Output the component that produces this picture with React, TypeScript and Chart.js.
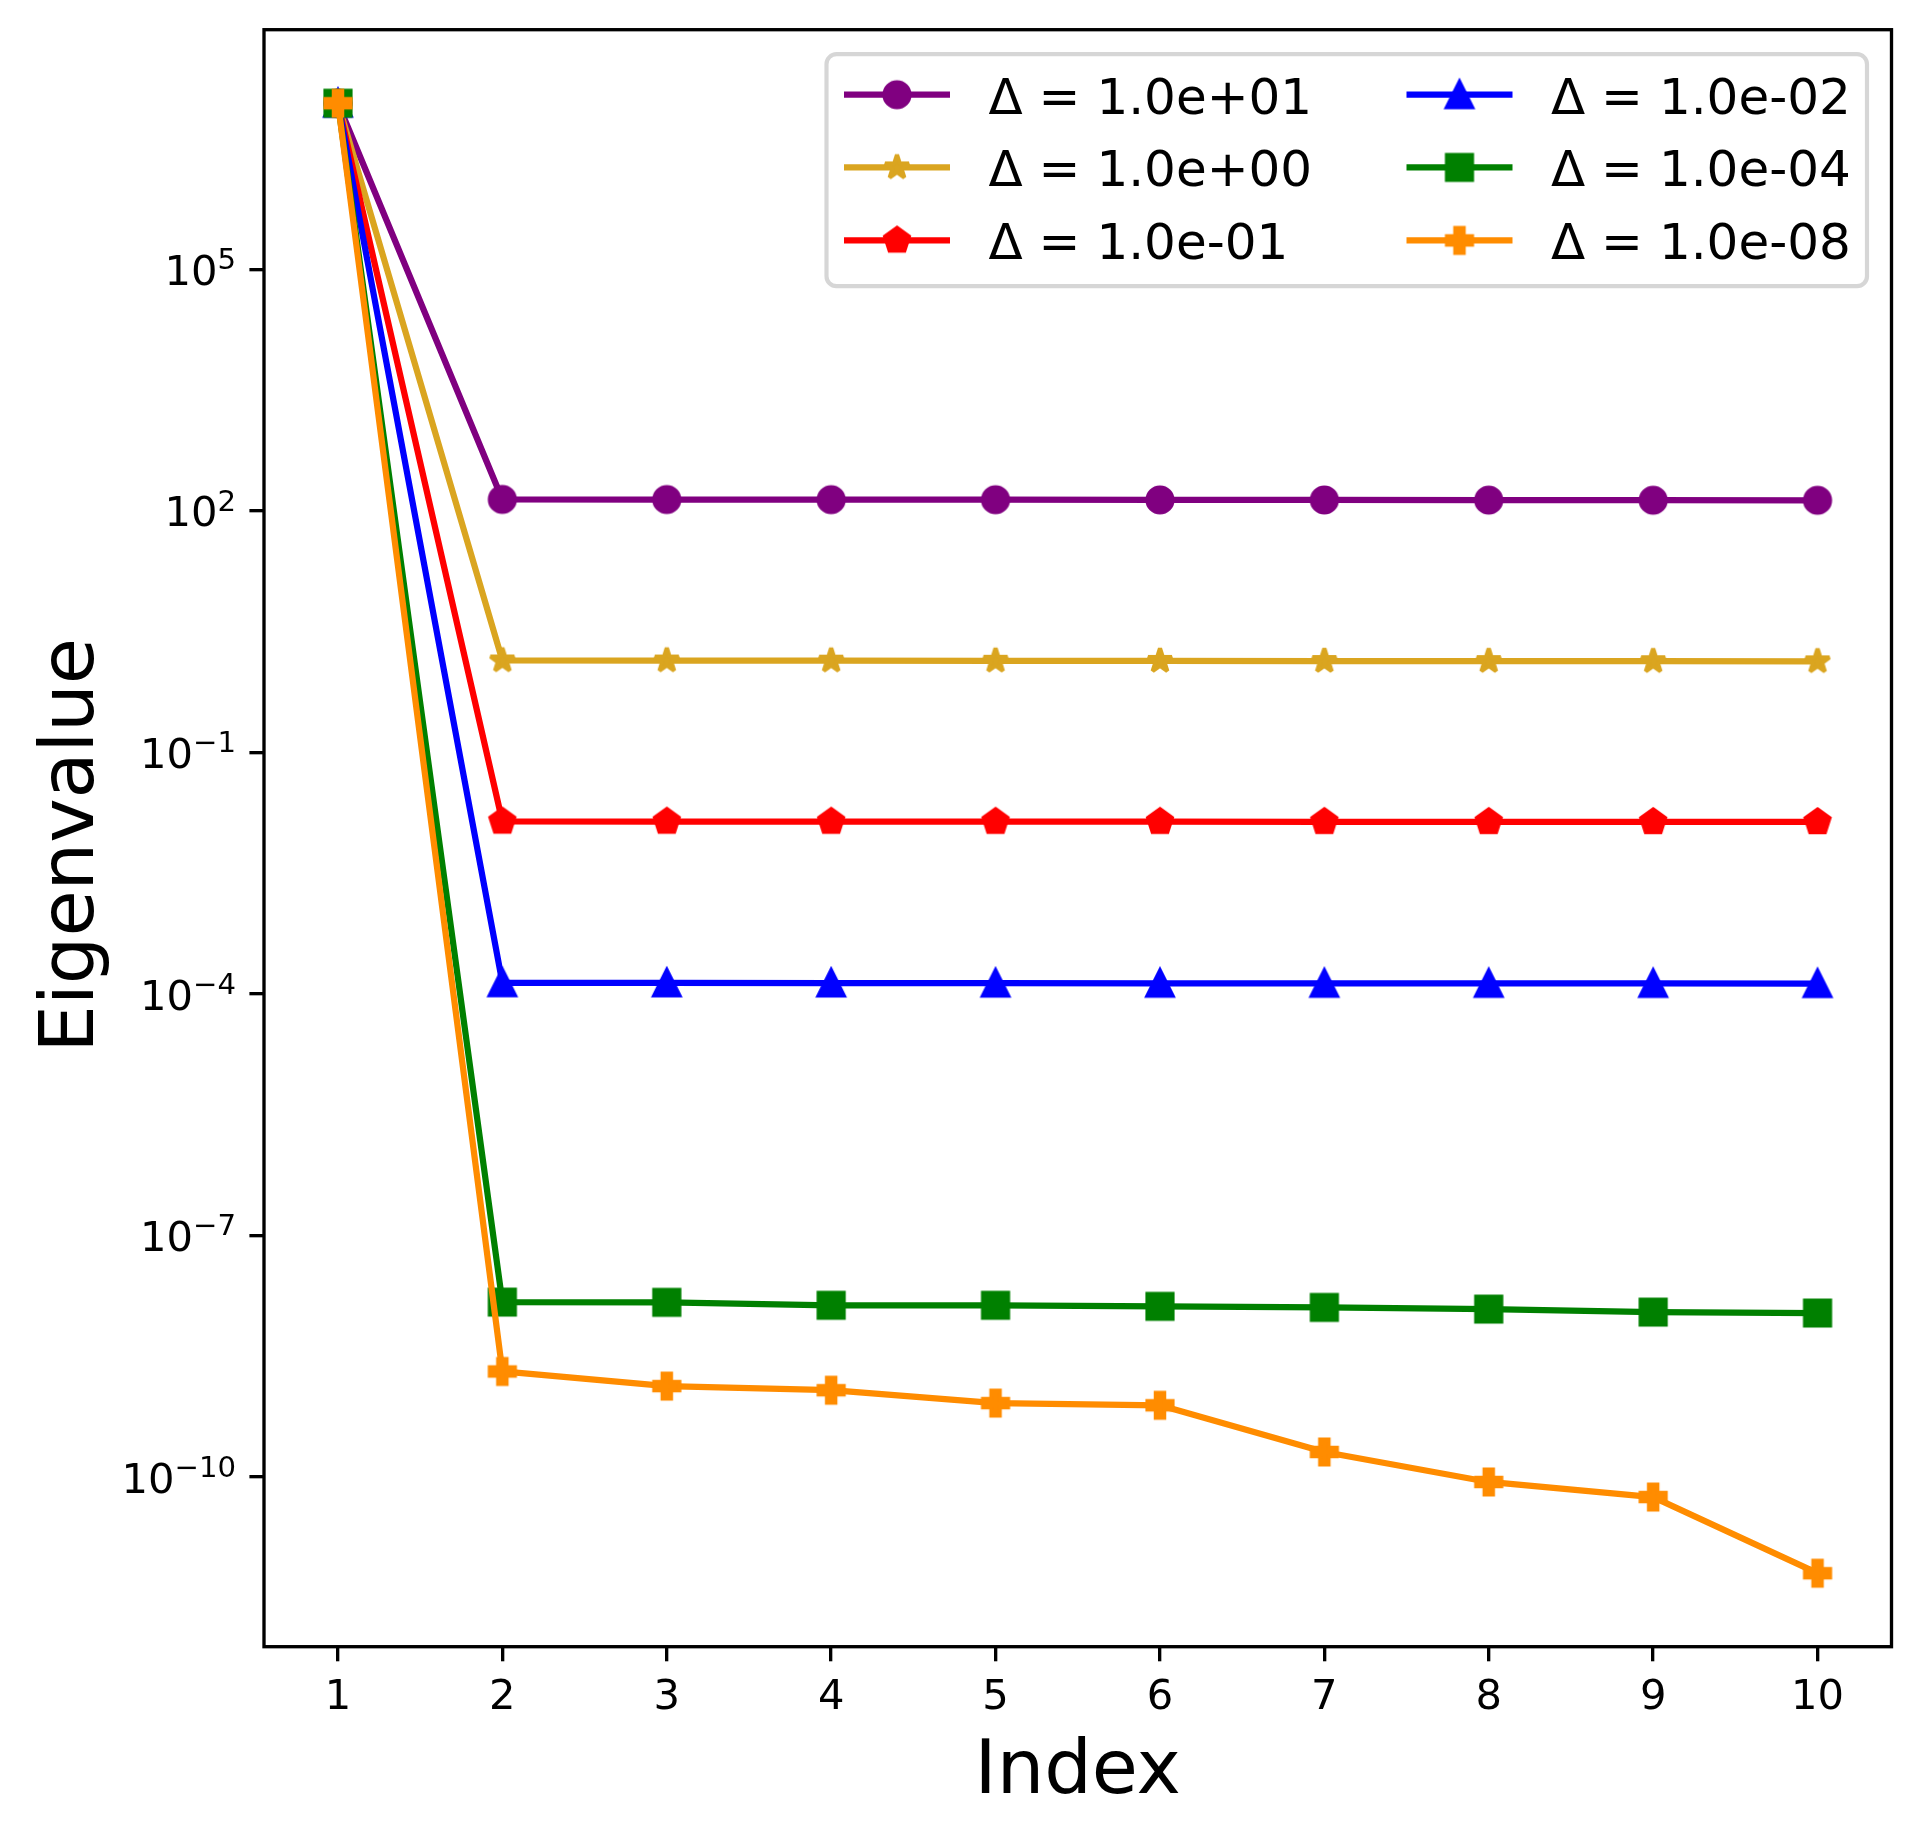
import React, { useEffect, useRef } from 'react';
import { Chart, registerables } from 'chart.js';

Chart.register(...registerables);

// ---------- data ----------
const indices = [1, 2, 3, 4, 5, 6, 7, 8, 9, 10];
const seriesLabels = [
  'Δ = 1.0e+01',
  'Δ = 1.0e+00',
  'Δ = 1.0e-01',
  'Δ = 1.0e-02',
  'Δ = 1.0e-04',
  'Δ = 1.0e-08',
];
const delta1e1 = [1.16e7, 139, 138.6, 138.2, 137.8, 137.2, 136.8, 136.4, 136.0, 135.6];
const delta1e0 = [1.16e7, 1.39, 1.386, 1.382, 1.378, 1.372, 1.368, 1.364, 1.36, 1.356];
const delta1em1 = [1.16e7, 0.0139, 0.01388, 0.01385, 0.01383, 0.0138, 0.01378, 0.01376, 0.01373, 0.0137];
const delta1em2 = [1.16e7, 1.38e-4, 1.375e-4, 1.37e-4, 1.365e-4, 1.36e-4, 1.357e-4, 1.354e-4, 1.351e-4, 1.348e-4];
const delta1em4 = [1.16e7, 1.49e-8, 1.48e-8, 1.36e-8, 1.36e-8, 1.32e-8, 1.28e-8, 1.22e-8, 1.12e-8, 1.09e-8];
const delta1em8 = [1.16e7, 2.05e-9, 1.35e-9, 1.2e-9, 8.3e-10, 7.8e-10, 2.05e-10, 8.7e-11, 5.65e-11, 6.4e-12];
const seriesValues = [delta1e1, delta1e0, delta1em1, delta1em2, delta1em4, delta1em8];
const seriesColors = ['#800080', '#DAA520', '#FF0000', '#0000FF', '#008000', '#FF8C00'];
const seriesMarkers = ['circle', 'star', 'pentagon', 'triangle', 'square', 'plus'];
const yTickExponents = [-10, -7, -4, -1, 2, 5];
const xTitle = 'Index';
const yTitle = 'Eigenvalue';

// ---------- style constants ----------
const W = 1921;
const H = 1837;
const FONT = '"DejaVu Sans", "Liberation Sans", sans-serif';
const LW = 6.25; // line width 1.5pt
const MS = 25; // marker size 6pt
const MEW = 4.17; // marker edge width 1pt
const SPINE = 3.33;
const TICK_LEN = 14.6;

function makeMarker(kind: string, color: string): HTMLCanvasElement {
  const S = 48;
  const c = document.createElement('canvas');
  c.width = S;
  c.height = S;
  const g = c.getContext('2d')!;
  g.translate(S / 2, S / 2);
  const h = MS / 2;
  g.fillStyle = color;
  g.strokeStyle = color;
  g.lineWidth = MEW;
  g.lineJoin = 'miter';
  g.beginPath();
  if (kind === 'circle') {
    g.arc(0, 0, h, 0, Math.PI * 2);
    g.lineJoin = 'round';
  } else if (kind === 'star') {
    for (let i = 0; i < 10; i++) {
      const r = i % 2 === 0 ? h : h * 0.381966;
      const a = -Math.PI / 2 + (i * Math.PI) / 5;
      const px = r * Math.cos(a);
      const py = r * Math.sin(a);
      if (i === 0) g.moveTo(px, py);
      else g.lineTo(px, py);
    }
    g.lineJoin = 'bevel';
  } else if (kind === 'pentagon') {
    for (let i = 0; i < 5; i++) {
      const a = -Math.PI / 2 + (i * 2 * Math.PI) / 5;
      const px = h * Math.cos(a);
      const py = h * Math.sin(a);
      if (i === 0) g.moveTo(px, py);
      else g.lineTo(px, py);
    }
  } else if (kind === 'triangle') {
    g.moveTo(0, -h);
    g.lineTo(-h, h);
    g.lineTo(h, h);
  } else if (kind === 'square') {
    g.rect(-h, -h, 2 * h, 2 * h);
  } else if (kind === 'plus') {
    const a = h / 3;
    const pts = [
      [-a, -h], [a, -h], [a, -a], [h, -a], [h, a], [a, a],
      [a, h], [-a, h], [-a, a], [-h, a], [-h, -a], [-a, -a],
    ];
    pts.forEach(([px, py], i) => (i === 0 ? g.moveTo(px, py) : g.lineTo(px, py)));
  }
  g.closePath();
  g.fill();
  g.stroke();
  return c;
}

export default function App() {
  const ref = useRef<HTMLCanvasElement | null>(null);

  useEffect(() => {
    if (!ref.current) return;
    const markers = seriesColors.map((c, i) => makeMarker(seriesMarkers[i], c));

    const all = seriesValues.flat();
    const lo = Math.log10(Math.min(...all));
    const hi = Math.log10(Math.max(...all));
    const ym = 0.05 * (hi - lo);
    const xm = 0.05 * (indices[indices.length - 1] - indices[0]);

    const decoPlugin = {
      id: 'mplDeco',
      afterDraw(chart: any) {
        const ctx = chart.ctx as CanvasRenderingContext2D;
        const ca = chart.chartArea;
        const xs = chart.scales.x;
        const ys = chart.scales.y;
        ctx.save();
        // spines
        ctx.strokeStyle = '#000';
        ctx.lineWidth = SPINE;
        ctx.strokeRect(ca.left, ca.top, ca.right - ca.left, ca.bottom - ca.top);

        // x tick labels
        ctx.fillStyle = '#000';
        ctx.font = `41.67px ${FONT}`;
        ctx.textAlign = 'center';
        ctx.textBaseline = 'alphabetic';
        indices.forEach((v) => {
          ctx.fillText(String(v), xs.getPixelForValue(v), ca.bottom + 62.3);
        });

        // y tick labels 10^n
        yTickExponents.forEach((e) => {
          const y = ys.getPixelForValue(Math.pow(10, e));
          const base = '10';
          const sup = e < 0 ? '\u2212' + Math.abs(e) : String(e);
          ctx.font = `41.67px ${FONT}`;
          const bw = ctx.measureText(base).width;
          ctx.font = `29.17px ${FONT}`;
          const sw = ctx.measureText(sup).width;
          const xRight = ca.left - 28;
          const x0 = xRight - sw - bw;
          ctx.textAlign = 'left';
          ctx.font = `41.67px ${FONT}`;
          ctx.fillText(base, x0, y + 15.5);
          ctx.font = `29.17px ${FONT}`;
          ctx.fillText(sup, x0 + bw, y + 15.5 - 15.6);
        });

        // axis titles
        ctx.font = `75px ${FONT}`;
        ctx.textAlign = 'center';
        ctx.fillText(xTitle, (ca.left + ca.right) / 2, ca.bottom + 146);
        ctx.save();
        ctx.translate(92.7, (ca.top + ca.bottom) / 2 + 7);
        ctx.rotate(-Math.PI / 2);
        ctx.fillText(yTitle, 0, 0);
        ctx.restore();

        // legend
        const right = ca.right - 24.5;
        const top = ca.top + 24.5;
        const left = right - 1040.5;
        const bottom = top + 232;
        const r = 10;
        ctx.beginPath();
        ctx.moveTo(left + r, top);
        ctx.lineTo(right - r, top);
        ctx.arcTo(right, top, right, top + r, r);
        ctx.lineTo(right, bottom - r);
        ctx.arcTo(right, bottom, right - r, bottom, r);
        ctx.lineTo(left + r, bottom);
        ctx.arcTo(left, bottom, left, bottom - r, r);
        ctx.lineTo(left, top + r);
        ctx.arcTo(left, top, left + r, top, r);
        ctx.closePath();
        ctx.fillStyle = 'rgba(255,255,255,0.8)';
        ctx.fill();
        ctx.lineWidth = 4.17;
        ctx.strokeStyle = 'rgba(204,204,204,0.8)';
        ctx.stroke();

        const rowOffsets = [40.5, 113.2, 186.2];
        const colOffsets = [17.5, 580];
        ctx.font = `50px ${FONT}`;
        ctx.textAlign = 'left';
        ctx.textBaseline = 'alphabetic';
        seriesLabels.forEach((label, i) => {
          const col = Math.floor(i / 3);
          const row = i % 3;
          const lx = left + colOffsets[col];
          const ly = top + rowOffsets[row];
          ctx.strokeStyle = seriesColors[i];
          ctx.lineWidth = LW;
          ctx.lineCap = 'butt';
          ctx.beginPath();
          ctx.moveTo(lx, ly);
          ctx.lineTo(lx + 106, ly);
          ctx.stroke();
          const m = markers[i];
          ctx.drawImage(m, lx + 53 - m.width / 2, ly - m.height / 2);
          ctx.fillStyle = '#000';
          ctx.fillText(label, lx + 144.5, ly + 19);
        });
        ctx.restore();
      },
    };

    const chart = new Chart(ref.current, {
      type: 'line',
      data: {
        datasets: seriesValues.map((vals, i) => ({
          label: seriesLabels[i],
          data: vals.map((v, j) => ({ x: indices[j], y: v })),
          borderColor: seriesColors[i],
          backgroundColor: seriesColors[i],
          borderWidth: LW,
          borderJoinStyle: 'round' as const,
          pointStyle: markers[i] as any,
          pointRadius: 12,
          pointHoverRadius: 12,
          tension: 0,
          fill: false,
          order: seriesValues.length - i,
        })),
      },
      options: {
        animation: false,
        responsive: false,
        devicePixelRatio: 1,
        events: [],
        layout: { padding: { top: 29.7, right: W - 1891.5, left: 0, bottom: 0 } },
        plugins: {
          legend: { display: false },
          tooltip: { enabled: false },
          title: { display: false },
        },
        scales: {
          x: {
            type: 'linear',
            min: indices[0] - xm,
            max: indices[indices.length - 1] + xm,
            afterBuildTicks: (scale: any) => {
              scale.ticks = indices.map((v) => ({ value: v }));
            },
            afterFit: (scale: any) => {
              scale.height = H - 1646.7;
            },
            ticks: { display: false },
            grid: {
              display: true,
              drawOnChartArea: false,
              drawTicks: true,
              tickLength: TICK_LEN,
              lineWidth: SPINE,
              tickWidth: SPINE,
              color: '#000',
              tickColor: '#000',
            },
            border: { display: false },
            title: { display: false },
          },
          y: {
            type: 'logarithmic',
            min: Math.pow(10, lo - ym),
            max: Math.pow(10, hi + ym),
            afterBuildTicks: (scale: any) => {
              scale.ticks = yTickExponents.map((e) => ({ value: Math.pow(10, e) }));
            },
            afterFit: (scale: any) => {
              scale.width = 264;
            },
            ticks: { display: false },
            grid: {
              display: true,
              drawOnChartArea: false,
              drawTicks: true,
              tickLength: TICK_LEN,
              lineWidth: SPINE,
              tickWidth: SPINE,
              color: '#000',
              tickColor: '#000',
            },
            border: { display: false },
            title: { display: false },
          },
        },
      },
      plugins: [decoPlugin],
    } as any);

    return () => chart.destroy();
  }, []);

  return (
    <div style={{ position: 'absolute', left: 0, top: 0, width: W, height: H, background: '#fff' }}>
      <canvas ref={ref} width={W} height={H} style={{ width: W, height: H, display: 'block' }} />
    </div>
  );
}
